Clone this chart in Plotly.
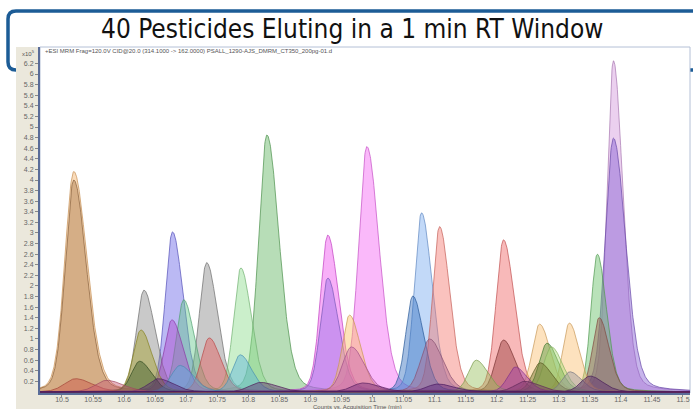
import numpy as np
import plotly.graph_objects as go

# ---------------- data ----------------
title_text = "40 Pesticides Eluting in a 1 min RT Window"
header_text = "+ESI MRM Frag=120.0V CID@20.0 (314.1000 -> 162.0000) PSALL_1290-AJS_DMRM_CT350_200pg-01.d"
x_title = "Counts vs. Acquisition Time (min)"
y_scale_label = "x10<sup>5</sup>"

# retention time of each peak apex (min)
peak_rt = [10.519, 10.519, 10.522, 10.572, 10.632, 10.627, 10.625, 10.678, 10.677, 10.696,
           10.690, 10.733, 10.737, 10.788, 10.787, 10.830, 10.928, 10.928, 10.963, 10.966,
           10.991, 11.065, 11.079, 11.108, 11.092, 11.167, 11.211, 11.211, 11.230, 11.269,
           11.281, 11.288, 11.270, 11.317, 11.318, 11.362, 11.365, 11.388, 11.388, 11.350,
           10.655, 10.820, 10.985, 11.105, 11.245]
# apex height (counts x10^5)
peak_height = [4.16, 4.00, 0.25, 0.22, 1.92, 1.17, 0.58, 3.02, 1.36, 1.74,
               0.50, 2.44, 1.02, 2.34, 0.70, 4.85, 2.96, 2.15, 1.45, 0.85,
               4.63, 1.81, 3.38, 3.12, 1.00, 0.60, 2.87, 0.98, 0.47, 1.28,
               0.92, 0.85, 0.55, 1.30, 0.38, 2.60, 1.40, 6.25, 4.79, 0.30,
               0.25, 0.18, 0.17, 0.15, 0.20]
# peak width at half height (min)
peak_fwhm = [0.040, 0.038, 0.050, 0.050, 0.034, 0.034, 0.036, 0.032, 0.034, 0.032,
             0.040, 0.033, 0.035, 0.032, 0.035, 0.037, 0.033, 0.033, 0.033, 0.040,
             0.037, 0.032, 0.032, 0.031, 0.040, 0.035, 0.033, 0.035, 0.035, 0.033,
             0.035, 0.035, 0.035, 0.030, 0.035, 0.028, 0.030, 0.029, 0.037, 0.040,
             0.045, 0.050, 0.050, 0.050, 0.045]

x_tick_vals = [10.5, 10.55, 10.6, 10.65, 10.7, 10.75, 10.8, 10.85, 10.9, 10.95,
               11.0, 11.05, 11.1, 11.15, 11.2, 11.25, 11.3, 11.35, 11.4, 11.45, 11.5]
x_tick_text = ["10.5", "10.55", "10.6", "10.65", "10.7", "10.75", "10.8", "10.85", "10.9", "10.95",
               "11", "11.05", "11.1", "11.15", "11.2", "11.25", "11.3", "11.35", "11.4", "11.45", "11.5"]
y_tick_vals = [0.2, 0.4, 0.6, 0.8, 1.0, 1.2, 1.4, 1.6, 1.8, 2.0, 2.2, 2.4, 2.6, 2.8, 3.0, 3.2,
               3.4, 3.6, 3.8, 4.0, 4.2, 4.4, 4.6, 4.8, 5.0, 5.2, 5.4, 5.6, 5.8, 6.0, 6.2]
y_tick_text = ["0.2", "0.4", "0.6", "0.8", "1", "1.2", "1.4", "1.6", "1.8", "2", "2.2", "2.4",
               "2.6", "2.8", "3", "3.2", "3.4", "3.6", "3.8", "4", "4.2", "4.4", "4.6", "4.8",
               "5", "5.2", "5.4", "5.6", "5.8", "6", "6.2"]

# ---------------- styles ----------------
peak_rgb = [(245, 178, 105), (168, 118, 72), (205, 85, 70), (200, 90, 120), (135, 135, 135),
            (165, 160, 40), (60, 90, 40), (105, 100, 230), (175, 70, 205), (100, 200, 140),
            (90, 175, 220), (135, 135, 135), (230, 90, 90), (140, 220, 140), (90, 180, 220),
            (95, 180, 95), (240, 80, 240), (150, 110, 230), (250, 190, 100), (200, 100, 170),
            (245, 100, 245), (50, 110, 190), (120, 170, 240), (245, 120, 110), (170, 100, 140),
            (150, 190, 90), (240, 100, 100), (150, 60, 60), (160, 60, 170), (250, 190, 110),
            (80, 150, 60), (170, 220, 120), (110, 110, 40), (250, 190, 110), (150, 150, 160),
            (100, 190, 100), (160, 90, 80), (210, 150, 220), (130, 90, 210), (90, 40, 110),
            (90, 40, 120), (100, 40, 110), (110, 40, 120), (90, 30, 120), (120, 50, 110)]

X0, X1 = 10.4646, 11.5113
Y0, Y1 = -0.02, 6.51
W, H = 693, 409
ML, MR, MT, MB = 40, 3, 47, 16
PW, PH = W - ML - MR, H - MT - MB
ETA = 0.2  # Lorentzian share of the peak profile (heavier skirts)


def px(xp):
    return (xp - ML) / PW


def py(yp):
    return (H - MB - yp) / PH


fig = go.Figure()
xs = np.linspace(X0, X1, 1800)
order = sorted(range(len(peak_rt)), key=lambda i: -peak_height[i])
for i in order:
    side = np.where(xs < peak_rt[i], 0.85, 1.25)
    half = peak_fwhm[i] / 2.0 * side
    sig = peak_fwhm[i] / 2.3548 * side
    d = xs - peak_rt[i]
    prof = (1 - ETA) * np.exp(-0.5 * (d / sig) ** 2) + ETA / (1 + (d / half) ** 2)
    ys = peak_height[i] * prof
    r, g, b = peak_rgb[i]
    fig.add_trace(go.Scatter(
        x=xs, y=ys, mode="lines", fill="tozeroy",
        fillcolor=f"rgba({r},{g},{b},0.45)",
        line=dict(color=f"rgba({int(r*0.8)},{int(g*0.8)},{int(b*0.8)},0.7)", width=1),
        hoverinfo="skip", showlegend=False))

# frame + panel shapes
rad = 8
fx0, fy0, fx1, fy1 = 8, 11, 720, 70
frame_path = (
    f"M {px(fx0)},{py(fy0 + rad)} "
    f"Q {px(fx0)},{py(fy0)} {px(fx0 + rad)},{py(fy0)} "
    f"L {px(fx1 - rad)},{py(fy0)} "
    f"Q {px(fx1)},{py(fy0)} {px(fx1)},{py(fy0 + rad)} "
    f"L {px(fx1)},{py(fy1 - rad)} "
    f"Q {px(fx1)},{py(fy1)} {px(fx1 - rad)},{py(fy1)} "
    f"L {px(fx0 + rad)},{py(fy1)} "
    f"Q {px(fx0)},{py(fy1)} {px(fx0)},{py(fy1 - rad)} Z"
)
shapes = [
    dict(type="path", path=frame_path, xref="paper", yref="paper", layer="below",
         line=dict(color="rgb(28,92,150)", width=3.5), fillcolor="rgba(0,0,0,0)"),
    dict(type="rect", xref="paper", yref="paper", layer="below",
         x0=px(16), x1=px(690), y0=py(47), y1=py(409),
         line=dict(width=0), fillcolor="#ebe8dc"),
    dict(type="rect", xref="paper", yref="paper", layer="below",
         x0=0, x1=1, y0=0, y1=1,
         line=dict(color="#b4c0d6", width=1), fillcolor="white"),
]

annotations = [
    dict(text=title_text, xref="paper", yref="paper", x=px(352), y=py(29),
         xanchor="center", yanchor="middle", showarrow=False,
         font=dict(family="Liberation Sans Narrow, DejaVu Sans Condensed, Roboto Condensed, sans-serif",
                   size=26, color="#111")),
    dict(text=header_text, xref="paper", yref="paper", x=px(43), y=py(50.5),
         xanchor="left", yanchor="middle", showarrow=False,
         font=dict(family="Liberation Sans, Arial, sans-serif", size=6, color="#555")),
    dict(text=y_scale_label, xref="paper", yref="paper", x=px(37), y=py(53),
         xanchor="right", yanchor="middle", showarrow=False,
         font=dict(family="Liberation Sans, Arial, sans-serif", size=6, color="#555")),
    dict(text=x_title, xref="paper", yref="paper", x=px(357), y=py(406.5),
         xanchor="center", yanchor="middle", showarrow=False,
         font=dict(family="Liberation Sans, Arial, sans-serif", size=6, color="#555")),
]

axis_common = dict(showgrid=False, zeroline=False, showline=True, linecolor="#5a6c98",
                   linewidth=2, ticks="outside", tickcolor="#888", tickwidth=1,
                   tickfont=dict(family="Liberation Sans, Arial, sans-serif", size=7, color="#666"),
                   fixedrange=True)

fig.update_layout(
    width=W, height=H, autosize=False,
    margin=dict(l=ML, r=MR, t=MT, b=MB, pad=0),
    paper_bgcolor="white", plot_bgcolor="white",
    shapes=shapes, annotations=annotations,
    xaxis=dict(range=[X0, X1], tickvals=x_tick_vals, ticktext=x_tick_text, ticklen=2,
               ticklabelstandoff=-3, **axis_common),
    yaxis=dict(range=[Y0, Y1], tickvals=y_tick_vals, ticktext=y_tick_text, ticklen=3, **axis_common),
    showlegend=False,
)

fig.write_html(
    "out.html",
    config={"displayModeBar": False},
    post_script="document.body.style.margin='0';document.body.style.padding='0';"
                "document.body.style.overflow='hidden';",
)
